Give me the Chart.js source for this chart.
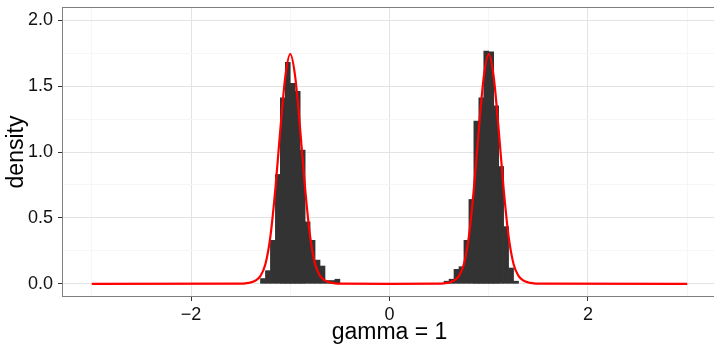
<!DOCTYPE html>
<html>
<head>
<meta charset="utf-8">
<script src="https://cdn.jsdelivr.net/npm/chart.js@4.4.1/dist/chart.umd.min.js"></script>
<style>
  html, body { margin: 0; padding: 0; background: #fff; overflow: hidden; }
  #wrap { width: 718px; height: 344px; }
</style>
</head>
<body>
<div id="wrap"><canvas id="chart" width="718" height="344"></canvas></div>
<script>
// histogram bins (centres, width 0.05) and their density
const binCenters = [-1.275, -1.225, -1.175, -1.125, -1.075, -1.025, -0.975, -0.925, -0.875, -0.825,
  -0.775, -0.725, -0.675, -0.625, -0.575, -0.525,
  0.575, 0.625, 0.675, 0.725, 0.775, 0.825, 0.875, 0.925, 0.975, 1.025,
  1.075, 1.125, 1.175, 1.225, 1.275];
const binDensity = [0.04, 0.10, 0.33, 0.83, 1.41, 1.68, 1.52, 1.46, 1.015, 0.47,
  0.33, 0.18, 0.135, 0.025, 0.025, 0.035,
  0.02, 0.035, 0.11, 0.13, 0.33, 0.64, 1.235, 1.41, 1.765, 1.76,
  1.35, 0.89, 0.434, 0.12, 0.02];

// red density curve
const curveX = [-3, -1.5, -1.45, -1.4, -1.35, -1.3, -1.25, -1.2, -1.15, -1.1, -1.05, -1,
  -0.95, -0.9, -0.85, -0.8, -0.75, -0.7, -0.65, -0.6, -0.55, -0.5, 0,
  0.5, 0.55, 0.6, 0.65, 0.7, 0.75, 0.8, 0.85, 0.9, 0.95, 1,
  1.05, 1.1, 1.15, 1.2, 1.25, 1.3, 1.35, 1.4, 1.45, 1.5, 3];
const curveY = [0, 0.001, 0.004, 0.01, 0.025, 0.06, 0.15, 0.36, 0.72, 1.17, 1.57, 1.742,
  1.57, 1.17, 0.72, 0.36, 0.15, 0.06, 0.025, 0.01, 0.004, 0.001, 0,
  0.001, 0.004, 0.01, 0.025, 0.06, 0.15, 0.36, 0.72, 1.17, 1.57, 1.742,
  1.57, 1.17, 0.72, 0.36, 0.15, 0.06, 0.025, 0.01, 0.004, 0.001, 0];

const xMajorTicks = [-2, 0, 2];
const xTickLabels = ['\u22122', '0', '2'];
const xMinorTicks = [-3, -1, 1, 3];
const yMajorTicks = [0, 0.5, 1, 1.5, 2];
const yTickLabels = ['0.0', '0.5', '1.0', '1.5', '2.0'];
const yMinorTicks = [0.25, 0.75, 1.25, 1.75];

const FONT = "'Liberation Sans', Arial, Helvetica, sans-serif";
const majorGrid = '#e3e3e3';
const minorGrid = '#f6f6f6';

function tickSetter(major, minor) {
  return (scale) => {
    scale.ticks = major.concat(minor).sort((a, b) => a - b).map(v => ({ value: v }));
  };
}
function labelFor(major, labels) {
  return (v) => {
    const i = major.findIndex(m => Math.abs(m - v) < 1e-9);
    return i >= 0 ? labels[i] : '';
  };
}
function isMajor(major, v) {
  return major.some(m => Math.abs(m - v) < 1e-9);
}
// drop the label padding chart.js reserves at the axis ends
function noEndPadding(s) {
  s.paddingTop = 0;
  s.paddingBottom = 0;
  s.paddingLeft = 0;
  s.paddingRight = 0;
}

// ggplot-like panel border
const panelBorder = {
  id: 'panelBorder',
  afterDraw(chart) {
    const { ctx, chartArea: a } = chart;
    ctx.save();
    ctx.strokeStyle = '#7f7f7f';
    ctx.lineWidth = 1;
    ctx.strokeRect(Math.round(a.left) + 0.5, Math.round(a.top) + 0.5,
      Math.round(a.right - a.left), Math.round(a.bottom - a.top) - 1);
    ctx.restore();
  }
};

new Chart(document.getElementById('chart'), {
  type: 'bar',
  data: {
    datasets: [
      {
        type: 'line',
        data: curveX.map((x, i) => ({ x, y: curveY[i] })),
        borderColor: '#ff0000',
        borderWidth: 2.2,
        pointRadius: 0,
        cubicInterpolationMode: 'monotone',
        fill: false,
        order: 0
      },
      {
        type: 'bar',
        data: binCenters.map((x, i) => ({ x, y: binDensity[i] })),
        backgroundColor: '#333333',
        borderWidth: 0,
        barPercentage: 1,
        categoryPercentage: 1,
        order: 1
      }
    ]
  },
  options: {
    responsive: false,
    animation: false,
    events: [],
    layout: { padding: { top: 7, right: 1, left: 0, bottom: 0 } },
    plugins: { legend: { display: false }, tooltip: { enabled: false } },
    scales: {
      x: {
        type: 'linear',
        min: -3.3,
        max: 3.3,
        offset: false,
        afterBuildTicks: tickSetter(xMajorTicks, xMinorTicks),
        afterFit: (s) => { s.height = 47; noEndPadding(s); },
        border: { display: false },
        grid: {
          offset: false,
          color: (c) => isMajor(xMajorTicks, c.tick.value) ? majorGrid : minorGrid,
          tickColor: (c) => isMajor(xMajorTicks, c.tick.value) ? '#333333' : 'rgba(0,0,0,0)',
          tickLength: 4,
          lineWidth: 1
        },
        ticks: {
          autoSkip: false,
          maxRotation: 0,
          padding: 3,
          color: '#111',
          font: { family: FONT, size: 18 },
          callback: labelFor(xMajorTicks, xTickLabels)
        },
        title: {
          display: true,
          text: 'gamma = 1',
          color: '#000',
          font: { family: FONT, size: 23, lineHeight: 1.0 },
          padding: { top: 0, bottom: 0 }
        }
      },
      y: {
        type: 'linear',
        min: -0.1,
        max: 2.1,
        afterBuildTicks: tickSetter(yMajorTicks, yMinorTicks),
        afterFit: (s) => { s.width = 62; noEndPadding(s); },
        border: { display: false },
        grid: {
          color: (c) => isMajor(yMajorTicks, c.tick.value) ? majorGrid : minorGrid,
          tickColor: (c) => isMajor(yMajorTicks, c.tick.value) ? '#333333' : 'rgba(0,0,0,0)',
          tickLength: 4,
          lineWidth: 1
        },
        ticks: {
          autoSkip: false,
          padding: 5,
          color: '#111',
          font: { family: FONT, size: 18 },
          callback: labelFor(yMajorTicks, yTickLabels)
        },
        title: {
          display: true,
          text: 'density',
          color: '#000',
          font: { family: FONT, size: 23, lineHeight: 1.2 },
          padding: { top: 3, bottom: 0 }
        }
      }
    }
  },
  plugins: [panelBorder]
});
</script>
</body>
</html>
